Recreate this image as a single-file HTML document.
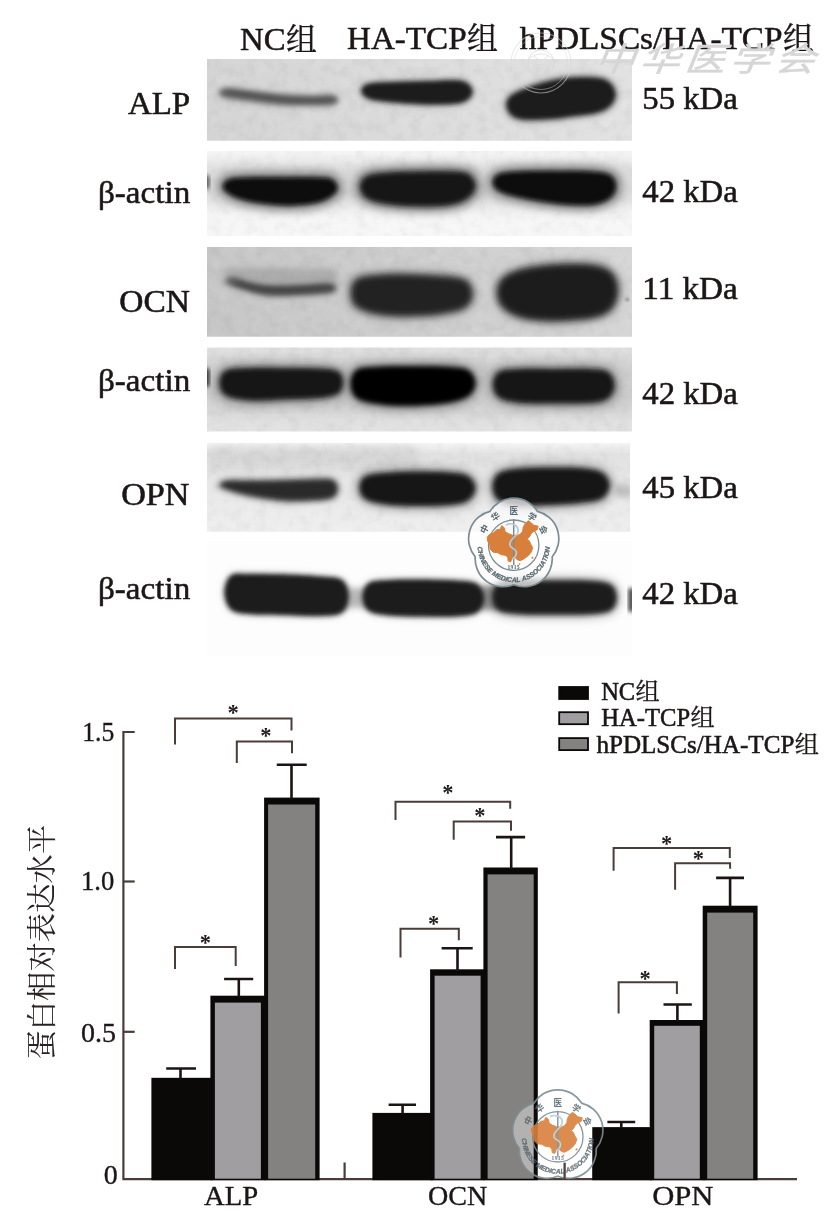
<!DOCTYPE html>
<html><head><meta charset="utf-8"><title>Figure</title>
<style>
html,body{margin:0;padding:0;background:#fff;}
body{width:829px;height:1213px;overflow:hidden;font-family:"Liberation Serif",serif;}
svg{display:block;font-family:"Liberation Serif",serif;}
</style></head><body>
<svg width="829" height="1213" viewBox="0 0 829 1213">
<rect width="829" height="1213" fill="#fff"/>
<defs>
<filter id="b04" x="-5%" y="-5%" width="110%" height="110%"><feGaussianBlur stdDeviation="0.35"/></filter>
<filter id="b1" x="-20%" y="-50%" width="140%" height="200%"><feGaussianBlur stdDeviation="1.2"/></filter>
<filter id="b2" x="-20%" y="-50%" width="140%" height="200%"><feGaussianBlur stdDeviation="2"/></filter>
<filter id="b25" x="-20%" y="-50%" width="140%" height="200%"><feGaussianBlur stdDeviation="2.5"/></filter>
<filter id="b3" x="-20%" y="-50%" width="140%" height="200%"><feGaussianBlur stdDeviation="3"/></filter>
<filter id="b5" x="-30%" y="-80%" width="160%" height="260%"><feGaussianBlur stdDeviation="5"/></filter>
<filter id="b8" x="-30%" y="-80%" width="160%" height="260%"><feGaussianBlur stdDeviation="8"/></filter>
<filter id="noise" x="0" y="0" width="100%" height="100%">
  <feTurbulence type="fractalNoise" baseFrequency="0.07" numOctaves="3" seed="7" result="n"/>
  <feColorMatrix in="n" type="matrix" values="0 0 0 0 1  0 0 0 0 1  0 0 0 0 1  2.2 0 0 0 -0.9"/>
</filter>
<filter id="noise2" x="0" y="0" width="100%" height="100%">
  <feTurbulence type="fractalNoise" baseFrequency="0.09" numOctaves="3" seed="23" result="n"/>
  <feColorMatrix in="n" type="matrix" values="0 0 0 0 0  0 0 0 0 0  0 0 0 0 0  0 2.2 0 0 -0.9"/>
</filter>
<linearGradient id="g1" x1="0" y1="0" x2="1" y2="0"><stop offset="0" stop-color="#d4d4d4"/><stop offset="0.5" stop-color="#dcdcdc"/><stop offset="1" stop-color="#e2e2e2"/></linearGradient>
<linearGradient id="g3" x1="0" y1="0" x2="1" y2="0"><stop offset="0" stop-color="#c6c6c6"/><stop offset="0.5" stop-color="#cecece"/><stop offset="1" stop-color="#d6d6d6"/></linearGradient>
<linearGradient id="g5" x1="0" y1="0" x2="0" y2="1"><stop offset="0" stop-color="#f6f6f6"/><stop offset="0.12" stop-color="#e2e2e2"/><stop offset="0.6" stop-color="#e9e9e9"/><stop offset="1" stop-color="#efefef"/></linearGradient>
<clipPath id="c1"><rect x="207" y="59" width="425" height="81.5"/></clipPath>
<clipPath id="c2"><rect x="207" y="151" width="425" height="85"/></clipPath>
<clipPath id="c3"><rect x="207" y="247" width="425" height="89.5"/></clipPath>
<clipPath id="c4"><rect x="207" y="347.5" width="425" height="84"/></clipPath>
<clipPath id="c5"><rect x="207" y="443" width="423" height="88.5"/></clipPath>
<clipPath id="c6"><rect x="207" y="541" width="425" height="115"/></clipPath>
</defs>
<rect x="207" y="59" width="425" height="81.5" fill="#dbdbdb"/>
<g clip-path="url(#c1)">
<rect x="207" y="59" width="425" height="82" fill="url(#g1)"/>
<rect x="207" y="59" width="425" height="81.5" fill="#fff" filter="url(#noise)" opacity="0.1"/>
<rect x="207" y="59" width="425" height="81.5" fill="#000" filter="url(#noise2)" opacity="0.034999999999999996"/>
<path d="M219.0,93.0 C219.0,91.3 220.8,88.4 226.0,88.0 C231.2,87.6 241.0,89.5 250.0,90.5 C259.0,91.5 270.0,93.2 280.0,94.0 C290.0,94.8 301.3,95.3 310.0,95.5 C318.7,95.7 327.3,94.2 332.0,95.0 C336.7,95.8 338.0,98.3 338.0,100.0 C338.0,101.7 336.7,104.1 332.0,105.0 C327.3,105.9 318.7,105.5 310.0,105.5 C301.3,105.5 290.0,105.7 280.0,105.0 C270.0,104.3 259.0,102.7 250.0,101.5 C241.0,100.3 231.2,99.4 226.0,98.0 C220.8,96.6 219.0,94.7 219.0,93.0 Z" fill="#999" stroke="#999" stroke-width="4" filter="url(#b3)" opacity="0.5"/><path d="M219.0,93.0 C219.0,91.3 220.8,88.4 226.0,88.0 C231.2,87.6 241.0,89.5 250.0,90.5 C259.0,91.5 270.0,93.2 280.0,94.0 C290.0,94.8 301.3,95.3 310.0,95.5 C318.7,95.7 327.3,94.2 332.0,95.0 C336.7,95.8 338.0,98.3 338.0,100.0 C338.0,101.7 336.7,104.1 332.0,105.0 C327.3,105.9 318.7,105.5 310.0,105.5 C301.3,105.5 290.0,105.7 280.0,105.0 C270.0,104.3 259.0,102.7 250.0,101.5 C241.0,100.3 231.2,99.4 226.0,98.0 C220.8,96.6 219.0,94.7 219.0,93.0 Z" fill="#7a7a7a" filter="url(#b25)" opacity="1"/>
<path d="M222.0,93.0 C222.0,92.2 224.5,90.4 230.0,90.5 C235.5,90.6 245.8,92.4 255.0,93.5 C264.2,94.6 275.5,96.2 285.0,97.0 C294.5,97.8 304.5,97.9 312.0,98.0 C319.5,98.1 326.0,97.2 330.0,97.5 C334.0,97.8 336.0,99.2 336.0,100.0 C336.0,100.8 334.0,102.0 330.0,102.5 C326.0,103.0 319.5,103.0 312.0,103.0 C304.5,103.0 294.5,103.2 285.0,102.5 C275.5,101.8 264.2,100.2 255.0,99.0 C245.8,97.8 235.5,96.5 230.0,95.5 C224.5,94.5 222.0,93.8 222.0,93.0 Z" fill="#484848" filter="url(#b2)" opacity="0.85"/>
<path d="M361.5,91.5 C361.2,89.0 362.4,85.6 368.0,84.0 C373.6,82.4 384.7,82.5 395.0,82.0 C405.3,81.5 418.8,81.2 430.0,81.0 C441.2,80.8 454.9,79.2 462.0,81.0 C469.1,82.8 472.5,88.2 472.5,91.8 C472.5,95.3 469.1,100.4 462.0,102.5 C454.9,104.6 441.2,104.5 430.0,104.5 C418.8,104.5 405.0,103.4 395.0,102.5 C385.0,101.6 375.6,100.8 370.0,99.0 C364.4,97.2 361.8,94.0 361.5,91.5 Z" fill="#777" stroke="#777" stroke-width="5" filter="url(#b3)" opacity="0.5"/><path d="M361.5,91.5 C361.2,89.0 362.4,85.6 368.0,84.0 C373.6,82.4 384.7,82.5 395.0,82.0 C405.3,81.5 418.8,81.2 430.0,81.0 C441.2,80.8 454.9,79.2 462.0,81.0 C469.1,82.8 472.5,88.2 472.5,91.8 C472.5,95.3 469.1,100.4 462.0,102.5 C454.9,104.6 441.2,104.5 430.0,104.5 C418.8,104.5 405.0,103.4 395.0,102.5 C385.0,101.6 375.6,100.8 370.0,99.0 C364.4,97.2 361.8,94.0 361.5,91.5 Z" fill="#1f1f1f" filter="url(#b2)" opacity="1"/>
<path d="M506.5,105.2 C506.5,101.8 507.4,98.3 512.0,95.0 C516.6,91.7 526.8,88.0 534.0,85.5 C541.2,83.0 548.2,81.3 555.0,80.0 C561.8,78.7 567.8,77.8 575.0,77.5 C582.2,77.2 592.2,77.1 598.0,78.0 C603.8,78.9 607.1,80.3 610.0,83.0 C612.9,85.7 615.3,90.3 615.5,94.0 C615.7,97.7 613.9,101.9 611.0,105.0 C608.1,108.1 604.0,110.7 598.0,112.5 C592.0,114.3 583.0,114.9 575.0,116.0 C567.0,117.1 558.5,118.4 550.0,119.0 C541.5,119.6 530.3,120.1 524.0,119.5 C517.7,118.9 514.9,117.9 512.0,115.5 C509.1,113.1 506.5,108.7 506.5,105.2 Z" fill="#707070" stroke="#707070" stroke-width="6" filter="url(#b3)" opacity="0.55"/><path d="M506.5,105.2 C506.5,101.8 507.4,98.3 512.0,95.0 C516.6,91.7 526.8,88.0 534.0,85.5 C541.2,83.0 548.2,81.3 555.0,80.0 C561.8,78.7 567.8,77.8 575.0,77.5 C582.2,77.2 592.2,77.1 598.0,78.0 C603.8,78.9 607.1,80.3 610.0,83.0 C612.9,85.7 615.3,90.3 615.5,94.0 C615.7,97.7 613.9,101.9 611.0,105.0 C608.1,108.1 604.0,110.7 598.0,112.5 C592.0,114.3 583.0,114.9 575.0,116.0 C567.0,117.1 558.5,118.4 550.0,119.0 C541.5,119.6 530.3,120.1 524.0,119.5 C517.7,118.9 514.9,117.9 512.0,115.5 C509.1,113.1 506.5,108.7 506.5,105.2 Z" fill="#1c1c1c" filter="url(#b2)" opacity="1"/>
</g>
<rect x="207" y="151" width="425" height="85" fill="#f7f7f7"/>
<g clip-path="url(#c2)">
<rect x="195" y="162" width="450" height="44" rx="18" ry="18" fill="#c2c2c2" filter="url(#b8)" opacity="0.6"/>
<rect x="207" y="151" width="425" height="85" fill="#fff" filter="url(#noise)" opacity="0.1"/>
<rect x="207" y="151" width="425" height="85" fill="#000" filter="url(#noise2)" opacity="0.034999999999999996"/>
<rect x="203" y="175" width="6.5" height="14" rx="3" ry="3" fill="#555" filter="url(#b2)" opacity="1"/>
<path d="M223.0,187.0 C222.8,184.3 225.5,180.6 230.0,179.0 C234.5,177.4 240.8,177.8 250.0,177.5 C259.2,177.2 274.2,177.5 285.0,177.5 C295.8,177.5 307.3,177.2 315.0,177.5 C322.7,177.8 327.2,177.3 331.0,179.0 C334.8,180.7 337.5,184.8 337.5,187.8 C337.5,190.7 334.8,194.0 331.0,196.5 C327.2,199.0 322.7,201.5 315.0,203.0 C307.3,204.5 295.8,205.8 285.0,205.5 C274.2,205.2 259.0,203.2 250.0,201.5 C241.0,199.8 235.5,197.4 231.0,195.0 C226.5,192.6 223.2,189.7 223.0,187.0 Z" fill="#5a5a5a" stroke="#5a5a5a" stroke-width="11" filter="url(#b5)" opacity="0.7"/><path d="M223.0,187.0 C222.8,184.3 225.5,180.6 230.0,179.0 C234.5,177.4 240.8,177.8 250.0,177.5 C259.2,177.2 274.2,177.5 285.0,177.5 C295.8,177.5 307.3,177.2 315.0,177.5 C322.7,177.8 327.2,177.3 331.0,179.0 C334.8,180.7 337.5,184.8 337.5,187.8 C337.5,190.7 334.8,194.0 331.0,196.5 C327.2,199.0 322.7,201.5 315.0,203.0 C307.3,204.5 295.8,205.8 285.0,205.5 C274.2,205.2 259.0,203.2 250.0,201.5 C241.0,199.8 235.5,197.4 231.0,195.0 C226.5,192.6 223.2,189.7 223.0,187.0 Z" fill="#070707" filter="url(#b2)" opacity="1"/>
<path d="M360.0,187.5 C359.8,183.7 362.0,178.5 367.0,176.0 C372.0,173.5 381.2,173.2 390.0,172.5 C398.8,171.8 410.0,171.7 420.0,171.5 C430.0,171.3 442.0,171.1 450.0,171.5 C458.0,171.9 463.8,171.6 468.0,174.0 C472.2,176.4 475.5,182.0 475.5,186.0 C475.5,190.0 472.2,194.8 468.0,198.0 C463.8,201.2 458.0,203.6 450.0,205.0 C442.0,206.4 430.0,206.6 420.0,206.5 C410.0,206.4 398.7,205.8 390.0,204.5 C381.3,203.2 373.0,201.8 368.0,199.0 C363.0,196.2 360.2,191.3 360.0,187.5 Z" fill="#5a5a5a" stroke="#5a5a5a" stroke-width="11" filter="url(#b5)" opacity="0.7"/><path d="M360.0,187.5 C359.8,183.7 362.0,178.5 367.0,176.0 C372.0,173.5 381.2,173.2 390.0,172.5 C398.8,171.8 410.0,171.7 420.0,171.5 C430.0,171.3 442.0,171.1 450.0,171.5 C458.0,171.9 463.8,171.6 468.0,174.0 C472.2,176.4 475.5,182.0 475.5,186.0 C475.5,190.0 472.2,194.8 468.0,198.0 C463.8,201.2 458.0,203.6 450.0,205.0 C442.0,206.4 430.0,206.6 420.0,206.5 C410.0,206.4 398.7,205.8 390.0,204.5 C381.3,203.2 373.0,201.8 368.0,199.0 C363.0,196.2 360.2,191.3 360.0,187.5 Z" fill="#181818" filter="url(#b25)" opacity="1"/>
<path d="M493.0,182.5 C493.0,179.7 494.5,175.8 499.0,174.0 C503.5,172.2 510.7,172.0 520.0,171.5 C529.3,171.0 543.3,171.0 555.0,171.0 C566.7,171.0 580.8,170.8 590.0,171.5 C599.2,172.2 605.7,172.4 610.0,175.0 C614.3,177.6 616.2,183.0 616.0,187.0 C615.8,191.0 613.3,196.0 609.0,199.0 C604.7,202.0 599.0,204.2 590.0,205.0 C581.0,205.8 566.7,204.8 555.0,203.5 C543.3,202.2 529.3,199.6 520.0,197.5 C510.7,195.4 503.5,193.5 499.0,191.0 C494.5,188.5 493.0,185.3 493.0,182.5 Z" fill="#5a5a5a" stroke="#5a5a5a" stroke-width="11" filter="url(#b5)" opacity="0.7"/><path d="M493.0,182.5 C493.0,179.7 494.5,175.8 499.0,174.0 C503.5,172.2 510.7,172.0 520.0,171.5 C529.3,171.0 543.3,171.0 555.0,171.0 C566.7,171.0 580.8,170.8 590.0,171.5 C599.2,172.2 605.7,172.4 610.0,175.0 C614.3,177.6 616.2,183.0 616.0,187.0 C615.8,191.0 613.3,196.0 609.0,199.0 C604.7,202.0 599.0,204.2 590.0,205.0 C581.0,205.8 566.7,204.8 555.0,203.5 C543.3,202.2 529.3,199.6 520.0,197.5 C510.7,195.4 503.5,193.5 499.0,191.0 C494.5,188.5 493.0,185.3 493.0,182.5 Z" fill="#070707" filter="url(#b2)" opacity="1"/>
</g>
<rect x="207" y="247" width="425" height="89.5" fill="#cdcdcd"/>
<g clip-path="url(#c3)">
<rect x="207" y="247" width="425" height="90" fill="url(#g3)"/>
<rect x="207" y="247" width="425" height="89.5" fill="#fff" filter="url(#noise)" opacity="0.1"/>
<rect x="207" y="247" width="425" height="89.5" fill="#000" filter="url(#noise2)" opacity="0.034999999999999996"/>
<rect x="224" y="268" width="114" height="18" rx="7" ry="7" fill="#909090" filter="url(#b3)" opacity="0.5"/>
<path d="M226.0,281.5 C226.0,280.2 229.0,277.3 233.0,277.5 C237.0,277.7 243.8,281.2 250.0,282.5 C256.2,283.8 261.7,285.1 270.0,285.5 C278.3,285.9 290.2,285.3 300.0,285.0 C309.8,284.7 323.0,283.0 329.0,283.5 C335.0,284.0 336.0,286.7 336.0,288.2 C336.0,289.8 335.0,291.9 329.0,293.0 C323.0,294.1 309.8,294.6 300.0,295.0 C290.2,295.4 278.3,296.1 270.0,295.5 C261.7,294.9 256.2,293.2 250.0,291.5 C243.8,289.8 237.0,287.2 233.0,285.5 C229.0,283.8 226.0,282.8 226.0,281.5 Z" fill="#888" stroke="#888" stroke-width="4" filter="url(#b3)" opacity="0.55"/><path d="M226.0,281.5 C226.0,280.2 229.0,277.3 233.0,277.5 C237.0,277.7 243.8,281.2 250.0,282.5 C256.2,283.8 261.7,285.1 270.0,285.5 C278.3,285.9 290.2,285.3 300.0,285.0 C309.8,284.7 323.0,283.0 329.0,283.5 C335.0,284.0 336.0,286.7 336.0,288.2 C336.0,289.8 335.0,291.9 329.0,293.0 C323.0,294.1 309.8,294.6 300.0,295.0 C290.2,295.4 278.3,296.1 270.0,295.5 C261.7,294.9 256.2,293.2 250.0,291.5 C243.8,289.8 237.0,287.2 233.0,285.5 C229.0,283.8 226.0,282.8 226.0,281.5 Z" fill="#5c5c5c" filter="url(#b25)" opacity="1"/>
<path d="M232.0,284.0 C232.0,283.3 236.2,281.8 240.0,282.0 C243.8,282.2 249.7,284.6 255.0,285.5 C260.3,286.4 264.5,287.2 272.0,287.5 C279.5,287.8 291.0,287.3 300.0,287.0 C309.0,286.7 320.5,285.3 326.0,285.5 C331.5,285.7 333.0,287.2 333.0,288.0 C333.0,288.8 331.5,289.8 326.0,290.5 C320.5,291.2 309.0,292.1 300.0,292.5 C291.0,292.9 279.5,293.3 272.0,293.0 C264.5,292.7 260.3,291.7 255.0,290.5 C249.7,289.3 243.8,287.1 240.0,286.0 C236.2,284.9 232.0,284.7 232.0,284.0 Z" fill="#3c3c3c" filter="url(#b2)" opacity="0.8"/>
<path d="M351.0,293.0 C351.0,288.3 352.2,282.0 357.0,279.0 C361.8,276.0 371.2,275.8 380.0,275.0 C388.8,274.2 400.0,274.3 410.0,274.5 C420.0,274.7 430.8,275.1 440.0,276.0 C449.2,276.9 459.6,277.0 465.0,280.0 C470.4,283.0 472.5,289.2 472.5,293.8 C472.5,298.3 470.4,304.1 465.0,307.5 C459.6,310.9 449.2,312.6 440.0,314.0 C430.8,315.4 420.0,315.9 410.0,316.0 C400.0,316.1 388.8,316.0 380.0,314.5 C371.2,313.0 361.8,310.6 357.0,307.0 C352.2,303.4 351.0,297.7 351.0,293.0 Z" fill="#6a6a6a" stroke="#6a6a6a" stroke-width="7" filter="url(#b5)" opacity="0.55"/><path d="M351.0,293.0 C351.0,288.3 352.2,282.0 357.0,279.0 C361.8,276.0 371.2,275.8 380.0,275.0 C388.8,274.2 400.0,274.3 410.0,274.5 C420.0,274.7 430.8,275.1 440.0,276.0 C449.2,276.9 459.6,277.0 465.0,280.0 C470.4,283.0 472.5,289.2 472.5,293.8 C472.5,298.3 470.4,304.1 465.0,307.5 C459.6,310.9 449.2,312.6 440.0,314.0 C430.8,315.4 420.0,315.9 410.0,316.0 C400.0,316.1 388.8,316.0 380.0,314.5 C371.2,313.0 361.8,310.6 357.0,307.0 C352.2,303.4 351.0,297.7 351.0,293.0 Z" fill="#222" filter="url(#b3)" opacity="1"/>
<path d="M497.0,292.8 C497.0,287.8 499.0,281.9 503.0,278.0 C507.0,274.1 513.2,271.7 521.0,269.5 C528.8,267.3 540.2,265.9 550.0,265.0 C559.8,264.1 571.7,263.8 580.0,264.0 C588.3,264.2 594.5,264.8 600.0,266.5 C605.5,268.2 610.0,270.0 613.0,274.0 C616.0,278.0 618.0,285.0 618.0,290.5 C618.0,296.0 616.0,302.8 613.0,307.0 C610.0,311.2 605.5,313.9 600.0,316.0 C594.5,318.1 588.3,318.7 580.0,319.5 C571.7,320.3 559.8,321.3 550.0,321.0 C540.2,320.7 528.8,319.8 521.0,317.5 C513.2,315.2 507.0,311.6 503.0,307.5 C499.0,303.4 497.0,297.7 497.0,292.8 Z" fill="#6a6a6a" stroke="#6a6a6a" stroke-width="7" filter="url(#b5)" opacity="0.55"/><path d="M497.0,292.8 C497.0,287.8 499.0,281.9 503.0,278.0 C507.0,274.1 513.2,271.7 521.0,269.5 C528.8,267.3 540.2,265.9 550.0,265.0 C559.8,264.1 571.7,263.8 580.0,264.0 C588.3,264.2 594.5,264.8 600.0,266.5 C605.5,268.2 610.0,270.0 613.0,274.0 C616.0,278.0 618.0,285.0 618.0,290.5 C618.0,296.0 616.0,302.8 613.0,307.0 C610.0,311.2 605.5,313.9 600.0,316.0 C594.5,318.1 588.3,318.7 580.0,319.5 C571.7,320.3 559.8,321.3 550.0,321.0 C540.2,320.7 528.8,319.8 521.0,317.5 C513.2,315.2 507.0,311.6 503.0,307.5 C499.0,303.4 497.0,297.7 497.0,292.8 Z" fill="#1f1f1f" filter="url(#b3)" opacity="1"/>
<circle cx="627.3" cy="299.5" r="1.8" fill="#8a8a8a" filter="url(#b1)"/>
</g>
<rect x="207" y="347.5" width="425" height="84" fill="#e3e3e3"/>
<g clip-path="url(#c4)">
<rect x="195" y="357" width="450" height="57" rx="20" ry="20" fill="#bdbdbd" filter="url(#b8)" opacity="0.6"/>
<rect x="207" y="347.5" width="425" height="84" fill="#fff" filter="url(#noise)" opacity="0.1"/>
<rect x="207" y="347.5" width="425" height="84" fill="#000" filter="url(#noise2)" opacity="0.034999999999999996"/>
<rect x="202" y="368" width="7.5" height="19" rx="3" ry="3" fill="#2a2a2a" filter="url(#b2)" opacity="1"/>
<path d="M219.5,383.0 C219.5,378.8 220.9,373.0 226.0,370.5 C231.1,368.0 240.2,368.4 250.0,368.0 C259.8,367.6 273.3,367.9 285.0,368.0 C296.7,368.1 311.2,367.9 320.0,368.5 C328.8,369.1 334.1,369.2 338.0,371.5 C341.9,373.8 343.5,378.8 343.5,382.5 C343.5,386.2 341.9,390.9 338.0,393.5 C334.1,396.1 328.8,397.0 320.0,398.0 C311.2,399.0 296.7,399.1 285.0,399.5 C273.3,399.9 259.8,401.2 250.0,400.5 C240.2,399.8 231.1,398.4 226.0,395.5 C220.9,392.6 219.5,387.2 219.5,383.0 Z" fill="#666" stroke="#666" stroke-width="9" filter="url(#b5)" opacity="0.6"/><path d="M219.5,383.0 C219.5,378.8 220.9,373.0 226.0,370.5 C231.1,368.0 240.2,368.4 250.0,368.0 C259.8,367.6 273.3,367.9 285.0,368.0 C296.7,368.1 311.2,367.9 320.0,368.5 C328.8,369.1 334.1,369.2 338.0,371.5 C341.9,373.8 343.5,378.8 343.5,382.5 C343.5,386.2 341.9,390.9 338.0,393.5 C334.1,396.1 328.8,397.0 320.0,398.0 C311.2,399.0 296.7,399.1 285.0,399.5 C273.3,399.9 259.8,401.2 250.0,400.5 C240.2,399.8 231.1,398.4 226.0,395.5 C220.9,392.6 219.5,387.2 219.5,383.0 Z" fill="#171717" filter="url(#b25)" opacity="1"/>
<path d="M350.5,384.0 C350.5,379.2 352.1,372.4 357.0,369.5 C361.9,366.6 371.2,367.1 380.0,366.5 C388.8,365.9 399.2,366.0 410.0,366.0 C420.8,366.0 435.3,365.8 445.0,366.5 C454.7,367.2 462.9,367.2 468.0,370.0 C473.1,372.8 475.5,378.8 475.5,383.2 C475.5,387.7 473.1,393.1 468.0,396.5 C462.9,399.9 454.7,401.9 445.0,403.5 C435.3,405.1 420.8,405.8 410.0,406.0 C399.2,406.2 388.8,405.8 380.0,404.5 C371.2,403.2 361.9,401.9 357.0,398.5 C352.1,395.1 350.5,388.8 350.5,384.0 Z" fill="#666" stroke="#666" stroke-width="9" filter="url(#b5)" opacity="0.6"/><path d="M350.5,384.0 C350.5,379.2 352.1,372.4 357.0,369.5 C361.9,366.6 371.2,367.1 380.0,366.5 C388.8,365.9 399.2,366.0 410.0,366.0 C420.8,366.0 435.3,365.8 445.0,366.5 C454.7,367.2 462.9,367.2 468.0,370.0 C473.1,372.8 475.5,378.8 475.5,383.2 C475.5,387.7 473.1,393.1 468.0,396.5 C462.9,399.9 454.7,401.9 445.0,403.5 C435.3,405.1 420.8,405.8 410.0,406.0 C399.2,406.2 388.8,405.8 380.0,404.5 C371.2,403.2 361.9,401.9 357.0,398.5 C352.1,395.1 350.5,388.8 350.5,384.0 Z" fill="#060606" filter="url(#b25)" opacity="1"/>
<path d="M493.0,384.8 C493.0,380.5 494.5,374.6 499.0,372.0 C503.5,369.4 510.7,369.5 520.0,369.0 C529.3,368.5 543.3,369.0 555.0,369.0 C566.7,369.0 581.2,368.5 590.0,369.0 C598.8,369.5 603.9,369.3 608.0,372.0 C612.1,374.7 614.5,380.8 614.5,385.2 C614.5,389.7 612.1,395.5 608.0,398.5 C603.9,401.5 598.8,402.2 590.0,403.0 C581.2,403.8 566.7,403.5 555.0,403.5 C543.3,403.5 529.3,404.0 520.0,403.0 C510.7,402.0 503.5,400.5 499.0,397.5 C494.5,394.5 493.0,389.0 493.0,384.8 Z" fill="#666" stroke="#666" stroke-width="9" filter="url(#b5)" opacity="0.6"/><path d="M493.0,384.8 C493.0,380.5 494.5,374.6 499.0,372.0 C503.5,369.4 510.7,369.5 520.0,369.0 C529.3,368.5 543.3,369.0 555.0,369.0 C566.7,369.0 581.2,368.5 590.0,369.0 C598.8,369.5 603.9,369.3 608.0,372.0 C612.1,374.7 614.5,380.8 614.5,385.2 C614.5,389.7 612.1,395.5 608.0,398.5 C603.9,401.5 598.8,402.2 590.0,403.0 C581.2,403.8 566.7,403.5 555.0,403.5 C543.3,403.5 529.3,404.0 520.0,403.0 C510.7,402.0 503.5,400.5 499.0,397.5 C494.5,394.5 493.0,389.0 493.0,384.8 Z" fill="#131313" filter="url(#b25)" opacity="1"/>
</g>
<rect x="207" y="443" width="423" height="88.5" fill="#ebebeb"/>
<g clip-path="url(#c5)">
<rect x="207" y="443" width="425" height="89" fill="url(#g5)"/><rect x="207" y="446" width="213" height="24" rx="8" ry="8" fill="#cfcfcf" filter="url(#b5)" opacity="0.6"/>
<rect x="207" y="443" width="423" height="88.5" fill="#fff" filter="url(#noise)" opacity="0.1"/>
<rect x="207" y="443" width="423" height="88.5" fill="#000" filter="url(#noise2)" opacity="0.034999999999999996"/>
<path d="M220.0,485.2 C220.0,483.8 223.0,481.7 228.0,481.0 C233.0,480.3 240.5,481.1 250.0,481.0 C259.5,480.9 274.2,480.8 285.0,480.5 C295.8,480.2 307.2,479.6 315.0,479.5 C322.8,479.4 328.2,478.5 332.0,480.0 C335.8,481.5 337.5,485.8 337.5,488.8 C337.5,491.7 335.8,495.6 332.0,497.5 C328.2,499.4 322.8,499.5 315.0,500.0 C307.2,500.5 295.8,501.2 285.0,500.5 C274.2,499.8 259.5,497.3 250.0,495.5 C240.5,493.7 233.0,491.2 228.0,489.5 C223.0,487.8 220.0,486.7 220.0,485.2 Z" fill="#777" stroke="#777" stroke-width="5" filter="url(#b3)" opacity="0.6"/><path d="M220.0,485.2 C220.0,483.8 223.0,481.7 228.0,481.0 C233.0,480.3 240.5,481.1 250.0,481.0 C259.5,480.9 274.2,480.8 285.0,480.5 C295.8,480.2 307.2,479.6 315.0,479.5 C322.8,479.4 328.2,478.5 332.0,480.0 C335.8,481.5 337.5,485.8 337.5,488.8 C337.5,491.7 335.8,495.6 332.0,497.5 C328.2,499.4 322.8,499.5 315.0,500.0 C307.2,500.5 295.8,501.2 285.0,500.5 C274.2,499.8 259.5,497.3 250.0,495.5 C240.5,493.7 233.0,491.2 228.0,489.5 C223.0,487.8 220.0,486.7 220.0,485.2 Z" fill="#2c2c2c" filter="url(#b25)" opacity="1"/>
<path d="M359.5,487.8 C359.5,483.8 360.9,478.5 366.0,476.0 C371.1,473.5 381.0,473.2 390.0,472.5 C399.0,471.8 410.0,471.5 420.0,471.5 C430.0,471.5 442.0,471.8 450.0,472.5 C458.0,473.2 463.8,473.4 468.0,476.0 C472.2,478.6 475.5,484.2 475.5,488.2 C475.5,492.3 472.2,497.7 468.0,500.5 C463.8,503.3 458.0,504.1 450.0,505.0 C442.0,505.9 430.0,506.0 420.0,506.0 C410.0,506.0 399.0,506.1 390.0,505.0 C381.0,503.9 371.1,502.4 366.0,499.5 C360.9,496.6 359.5,491.7 359.5,487.8 Z" fill="#666" stroke="#666" stroke-width="8" filter="url(#b5)" opacity="0.55"/><path d="M359.5,487.8 C359.5,483.8 360.9,478.5 366.0,476.0 C371.1,473.5 381.0,473.2 390.0,472.5 C399.0,471.8 410.0,471.5 420.0,471.5 C430.0,471.5 442.0,471.8 450.0,472.5 C458.0,473.2 463.8,473.4 468.0,476.0 C472.2,478.6 475.5,484.2 475.5,488.2 C475.5,492.3 472.2,497.7 468.0,500.5 C463.8,503.3 458.0,504.1 450.0,505.0 C442.0,505.9 430.0,506.0 420.0,506.0 C410.0,506.0 399.0,506.1 390.0,505.0 C381.0,503.9 371.1,502.4 366.0,499.5 C360.9,496.6 359.5,491.7 359.5,487.8 Z" fill="#121212" filter="url(#b25)" opacity="1"/>
<path d="M492.5,486.8 C492.5,482.2 494.4,476.0 499.0,473.0 C503.6,470.0 511.5,469.4 520.0,468.5 C528.5,467.6 540.0,467.6 550.0,467.5 C560.0,467.4 571.3,467.2 580.0,468.0 C588.7,468.8 597.1,469.6 602.0,472.5 C606.9,475.4 609.5,481.2 609.5,485.5 C609.5,489.8 606.9,495.6 602.0,498.5 C597.1,501.4 588.7,501.9 580.0,503.0 C571.3,504.1 560.0,504.6 550.0,505.0 C540.0,505.4 528.5,506.2 520.0,505.5 C511.5,504.8 503.6,503.6 499.0,500.5 C494.4,497.4 492.5,491.3 492.5,486.8 Z" fill="#666" stroke="#666" stroke-width="8" filter="url(#b5)" opacity="0.55"/><path d="M492.5,486.8 C492.5,482.2 494.4,476.0 499.0,473.0 C503.6,470.0 511.5,469.4 520.0,468.5 C528.5,467.6 540.0,467.6 550.0,467.5 C560.0,467.4 571.3,467.2 580.0,468.0 C588.7,468.8 597.1,469.6 602.0,472.5 C606.9,475.4 609.5,481.2 609.5,485.5 C609.5,489.8 606.9,495.6 602.0,498.5 C597.1,501.4 588.7,501.9 580.0,503.0 C571.3,504.1 560.0,504.6 550.0,505.0 C540.0,505.4 528.5,506.2 520.0,505.5 C511.5,504.8 503.6,503.6 499.0,500.5 C494.4,497.4 492.5,491.3 492.5,486.8 Z" fill="#121212" filter="url(#b25)" opacity="1"/>
<rect x="614" y="484" width="18" height="13" rx="5" ry="5" fill="#a0a0a0" filter="url(#b3)" opacity="0.55"/>
</g>
<rect x="207" y="541" width="425" height="115" fill="#fdfdfd"/>
<g clip-path="url(#c6)">

<rect x="207" y="541" width="425" height="115" fill="#fff" filter="url(#noise)" opacity="0.0"/>
<rect x="207" y="541" width="425" height="115" fill="#000" filter="url(#noise2)" opacity="0.0"/>
<rect x="340" y="588" width="32" height="20" rx="6" ry="6" fill="#777" filter="url(#b3)" opacity="0.5"/>
<rect x="478" y="586" width="22" height="24" rx="6" ry="6" fill="#555" filter="url(#b3)" opacity="0.7"/>
<path d="M224.5,592.5 C224.5,586.8 226.8,578.6 231.0,575.5 C235.2,572.4 241.0,574.2 250.0,574.0 C259.0,573.8 273.3,574.1 285.0,574.5 C296.7,574.9 310.5,575.6 320.0,576.5 C329.5,577.4 337.2,576.7 342.0,580.0 C346.8,583.3 348.5,590.8 348.5,596.2 C348.5,601.7 346.8,609.2 342.0,612.5 C337.2,615.8 329.5,615.6 320.0,616.0 C310.5,616.4 296.7,615.3 285.0,615.0 C273.3,614.7 259.0,614.9 250.0,614.0 C241.0,613.1 235.2,613.1 231.0,609.5 C226.8,605.9 224.5,598.2 224.5,592.5 Z" fill="#888" stroke="#888" stroke-width="4" filter="url(#b3)" opacity="0.45"/><path d="M224.5,592.5 C224.5,586.8 226.8,578.6 231.0,575.5 C235.2,572.4 241.0,574.2 250.0,574.0 C259.0,573.8 273.3,574.1 285.0,574.5 C296.7,574.9 310.5,575.6 320.0,576.5 C329.5,577.4 337.2,576.7 342.0,580.0 C346.8,583.3 348.5,590.8 348.5,596.2 C348.5,601.7 346.8,609.2 342.0,612.5 C337.2,615.8 329.5,615.6 320.0,616.0 C310.5,616.4 296.7,615.3 285.0,615.0 C273.3,614.7 259.0,614.9 250.0,614.0 C241.0,613.1 235.2,613.1 231.0,609.5 C226.8,605.9 224.5,598.2 224.5,592.5 Z" fill="#1a1a1a" filter="url(#b2)" opacity="1"/>
<path d="M362.5,597.0 C362.5,592.3 364.4,585.8 369.0,583.0 C373.6,580.2 381.5,580.6 390.0,580.0 C398.5,579.4 409.2,579.4 420.0,579.5 C430.8,579.6 445.5,579.8 455.0,580.5 C464.5,581.2 472.1,581.0 477.0,584.0 C481.9,587.0 484.5,593.5 484.5,598.2 C484.5,603.0 481.9,609.5 477.0,612.5 C472.1,615.5 464.5,615.8 455.0,616.5 C445.5,617.2 430.8,616.7 420.0,616.5 C409.2,616.3 398.5,616.4 390.0,615.5 C381.5,614.6 373.6,614.1 369.0,611.0 C364.4,607.9 362.5,601.7 362.5,597.0 Z" fill="#888" stroke="#888" stroke-width="4" filter="url(#b3)" opacity="0.45"/><path d="M362.5,597.0 C362.5,592.3 364.4,585.8 369.0,583.0 C373.6,580.2 381.5,580.6 390.0,580.0 C398.5,579.4 409.2,579.4 420.0,579.5 C430.8,579.6 445.5,579.8 455.0,580.5 C464.5,581.2 472.1,581.0 477.0,584.0 C481.9,587.0 484.5,593.5 484.5,598.2 C484.5,603.0 481.9,609.5 477.0,612.5 C472.1,615.5 464.5,615.8 455.0,616.5 C445.5,617.2 430.8,616.7 420.0,616.5 C409.2,616.3 398.5,616.4 390.0,615.5 C381.5,614.6 373.6,614.1 369.0,611.0 C364.4,607.9 362.5,601.7 362.5,597.0 Z" fill="#1a1a1a" filter="url(#b2)" opacity="1"/>
<path d="M492.0,597.0 C492.0,592.5 493.3,586.2 498.0,583.5 C502.7,580.8 510.5,581.1 520.0,580.5 C529.5,579.9 543.3,580.0 555.0,580.0 C566.7,580.0 580.7,579.8 590.0,580.5 C599.3,581.2 606.5,581.7 611.0,584.5 C615.5,587.3 617.0,593.2 617.0,597.5 C617.0,601.8 615.5,607.7 611.0,610.5 C606.5,613.3 599.3,613.8 590.0,614.5 C580.7,615.2 566.7,615.0 555.0,615.0 C543.3,615.0 529.5,615.2 520.0,614.5 C510.5,613.8 502.7,613.4 498.0,610.5 C493.3,607.6 492.0,601.5 492.0,597.0 Z" fill="#888" stroke="#888" stroke-width="7" filter="url(#b5)" opacity="0.55"/><path d="M492.0,597.0 C492.0,592.5 493.3,586.2 498.0,583.5 C502.7,580.8 510.5,581.1 520.0,580.5 C529.5,579.9 543.3,580.0 555.0,580.0 C566.7,580.0 580.7,579.8 590.0,580.5 C599.3,581.2 606.5,581.7 611.0,584.5 C615.5,587.3 617.0,593.2 617.0,597.5 C617.0,601.8 615.5,607.7 611.0,610.5 C606.5,613.3 599.3,613.8 590.0,614.5 C580.7,615.2 566.7,615.0 555.0,615.0 C543.3,615.0 529.5,615.2 520.0,614.5 C510.5,613.8 502.7,613.4 498.0,610.5 C493.3,607.6 492.0,601.5 492.0,597.0 Z" fill="#1a1a1a" filter="url(#b25)" opacity="1"/>
<rect x="628.5" y="588" width="5.5" height="24" rx="2" ry="2" fill="#333" filter="url(#b2)" opacity="1"/>
</g>
<text x="240.0" y="50.2" font-size="32.5" text-anchor="start" font-weight="normal" fill="#1c1616" textLength="45.6" lengthAdjust="spacingAndGlyphs" stroke="#1c1616" stroke-width="0.5" >NC</text><text x="286.12" y="50.2" font-size="30.87" text-anchor="start" fill="#1c1616" stroke="#1c1616" stroke-width="0.3" font-family="'Liberation Serif','Noto Serif CJK SC',serif">组</text>
<text x="347.0" y="49.0" font-size="32.5" text-anchor="start" font-weight="normal" fill="#1c1616" textLength="119.6" lengthAdjust="spacingAndGlyphs" stroke="#1c1616" stroke-width="0.5" >HA-TCP</text><text x="467.12" y="49.0" font-size="30.87" text-anchor="start" fill="#1c1616" stroke="#1c1616" stroke-width="0.3" font-family="'Liberation Serif','Noto Serif CJK SC',serif">组</text>
<text x="519.8" y="49.0" font-size="32.5" text-anchor="start" font-weight="normal" fill="#1c1616" textLength="262.8" lengthAdjust="spacingAndGlyphs" stroke="#1c1616" stroke-width="0.5" >hPDLSCs/HA-TCP</text><text x="783.12" y="49.0" font-size="30.87" text-anchor="start" fill="#1c1616" stroke="#1c1616" stroke-width="0.3" font-family="'Liberation Serif','Noto Serif CJK SC',serif">组</text>
<g fill="none" stroke="#d6d6d6" stroke-width="1.1" opacity="0.55"><circle cx="541" cy="63" r="30"/><circle cx="541" cy="63" r="26.5" stroke-width="0.8"/><circle cx="541" cy="63" r="13"/><path d="M528,63 a13,9 0 0 1 26,0 M531,70 q10,-12 20,0 M534,56 q7,8 14,0"/></g>
<g transform="translate(594.0,70.5) skewX(-22) scale(1,0.825)" font-family="'Liberation Sans','Noto Sans CJK SC',sans-serif" font-size="40" fill="#d6d6d6" stroke="#d6d6d6" stroke-width="0.6"><text x="0" y="0">中</text><text x="45" y="0">华</text><text x="90" y="0">医</text><text x="135" y="0">学</text><text x="180" y="0">会</text></g>
<text x="190.2" y="113.7" font-size="32" text-anchor="end" font-weight="normal" fill="#1c1616" textLength="62.3" lengthAdjust="spacingAndGlyphs" stroke="#1c1616" stroke-width="0.55" >ALP</text>
<text x="190.2" y="203.2" font-size="32" text-anchor="end" font-weight="normal" fill="#1c1616" textLength="92.2" lengthAdjust="spacingAndGlyphs" stroke="#1c1616" stroke-width="0.55" >β-actin</text>
<text x="189.9" y="311.7" font-size="32" text-anchor="end" font-weight="normal" fill="#1c1616" textLength="70.6" lengthAdjust="spacingAndGlyphs" stroke="#1c1616" stroke-width="0.55" >OCN</text>
<text x="190.2" y="391.4" font-size="32" text-anchor="end" font-weight="normal" fill="#1c1616" textLength="92.2" lengthAdjust="spacingAndGlyphs" stroke="#1c1616" stroke-width="0.55" >β-actin</text>
<text x="189.5" y="504.7" font-size="32" text-anchor="end" font-weight="normal" fill="#1c1616" textLength="68.3" lengthAdjust="spacingAndGlyphs" stroke="#1c1616" stroke-width="0.55" >OPN</text>
<text x="190.2" y="599.1" font-size="32" text-anchor="end" font-weight="normal" fill="#1c1616" textLength="92.2" lengthAdjust="spacingAndGlyphs" stroke="#1c1616" stroke-width="0.55" >β-actin</text>
<text x="642.3" y="109.4" font-size="32" text-anchor="start" font-weight="normal" fill="#1c1616" textLength="95.5" lengthAdjust="spacingAndGlyphs" stroke="#1c1616" stroke-width="0.55" >55 kDa</text>
<text x="642.3" y="201.7" font-size="32" text-anchor="start" font-weight="normal" fill="#1c1616" textLength="95.5" lengthAdjust="spacingAndGlyphs" stroke="#1c1616" stroke-width="0.55" >42 kDa</text>
<text x="642.3" y="299.4" font-size="32" text-anchor="start" font-weight="normal" fill="#1c1616" textLength="95.5" lengthAdjust="spacingAndGlyphs" stroke="#1c1616" stroke-width="0.55" >11 kDa</text>
<text x="642.3" y="403.7" font-size="32" text-anchor="start" font-weight="normal" fill="#1c1616" textLength="95.5" lengthAdjust="spacingAndGlyphs" stroke="#1c1616" stroke-width="0.55" >42 kDa</text>
<text x="642.3" y="497.8" font-size="32" text-anchor="start" font-weight="normal" fill="#1c1616" textLength="95.5" lengthAdjust="spacingAndGlyphs" stroke="#1c1616" stroke-width="0.55" >45 kDa</text>
<text x="642.3" y="603.9" font-size="32" text-anchor="start" font-weight="normal" fill="#1c1616" textLength="95.5" lengthAdjust="spacingAndGlyphs" stroke="#1c1616" stroke-width="0.55" >42 kDa</text>
<path d="M134.7,732 H123.4 V1179.2 H797" fill="none" stroke="#4a3d38" stroke-width="2.2"/>
<path d="M123.4,881.5 H134.7" stroke="#4a3d38" stroke-width="2.2"/>
<path d="M123.4,1031.8 H134.7" stroke="#4a3d38" stroke-width="2.2"/>
<path d="M344.6,1162.6 V1179.2 M564.6,1162.6 V1179.2" stroke="#4a3d38" stroke-width="2.2"/>
<text x="114.3" y="741.3" font-size="28" text-anchor="end" font-weight="normal" fill="#1c1616" textLength="32.1" lengthAdjust="spacingAndGlyphs" stroke="#1c1616" stroke-width="0.35" >1.5</text>
<text x="114.3" y="889.8" font-size="28" text-anchor="end" font-weight="normal" fill="#1c1616" textLength="33.3" lengthAdjust="spacingAndGlyphs" stroke="#1c1616" stroke-width="0.35" >1.0</text>
<text x="116.0" y="1041.7" font-size="28" text-anchor="end" font-weight="normal" fill="#1c1616" textLength="35.0" lengthAdjust="spacingAndGlyphs" stroke="#1c1616" stroke-width="0.35" >0.5</text>
<text x="117.8" y="1183.7" font-size="28" text-anchor="end" font-weight="normal" fill="#1c1616" stroke="#1c1616" stroke-width="0.35" >0</text>
<rect x="151.4" y="1077.8" width="61.599999999999994" height="102.40000000000009" fill="#0b0808"/>
<rect x="210.4" y="995.7" width="55.599999999999994" height="184.5" fill="#0b0808"/>
<rect x="214.9" y="1002.6" width="45.99999999999997" height="176.10000000000002" fill="#a09ea1"/>
<rect x="264.1" y="797.6" width="55.5" height="382.6" fill="#0b0808"/>
<rect x="268.1" y="804.5" width="47.099999999999966" height="374.20000000000005" fill="#838280"/>
<path d="M166.2,1068.5 H196 M180.5,1068.5 V1079" stroke="#1c1414" stroke-width="2.6" fill="none"/>
<path d="M224.1,979 H253.2 M238.8,979 V997" stroke="#1c1414" stroke-width="2.6" fill="none"/>
<path d="M276.8,764.7 H306.7 M291.5,764.7 V799" stroke="#1c1414" stroke-width="2.6" fill="none"/>
<rect x="372.4" y="1112.9" width="60.60000000000002" height="67.29999999999995" fill="#0b0808"/>
<rect x="430.1" y="969.3" width="54.89999999999998" height="210.9000000000001" fill="#0b0808"/>
<rect x="434.6" y="975.7" width="46.0" height="203.0" fill="#a09ea1"/>
<rect x="483.4" y="867.5" width="54.39999999999998" height="312.70000000000005" fill="#0b0808"/>
<rect x="487.6" y="874.4" width="46.10000000000002" height="304.30000000000007" fill="#838280"/>
<path d="M388.6,1104.8 H416 M402.6,1104.8 V1114" stroke="#1c1414" stroke-width="2.6" fill="none"/>
<path d="M441.6,948.3 H472.7 M457.5,948.3 V971" stroke="#1c1414" stroke-width="2.6" fill="none"/>
<path d="M496,837.1 H525.1 M511.2,837.1 V869" stroke="#1c1414" stroke-width="2.6" fill="none"/>
<rect x="592.2" y="1127.1" width="59.799999999999955" height="53.100000000000136" fill="#0b0808"/>
<rect x="649.7" y="1020" width="55.299999999999955" height="160.20000000000005" fill="#0b0808"/>
<rect x="654.2" y="1025.8" width="45.59999999999991" height="152.9000000000001" fill="#a09ea1"/>
<rect x="702.7" y="905.7" width="54.89999999999998" height="274.5" fill="#0b0808"/>
<rect x="707.2" y="912.6" width="46.0" height="266.1" fill="#838280"/>
<path d="M607.4,1122 H635.2 M621.3,1122 V1128" stroke="#1c1414" stroke-width="2.6" fill="none"/>
<path d="M663.5,1004.5 H691.8 M677.4,1004.5 V1021" stroke="#1c1414" stroke-width="2.6" fill="none"/>
<path d="M716.1,877.9 H744 M730.1,877.9 V907" stroke="#1c1414" stroke-width="2.6" fill="none"/>
<path d="M175,744.5 V718.5 H291.5 V730.5" fill="none" stroke="#4a3d38" stroke-width="2"/>
<text x="233.2" y="719.6" font-size="22.5" text-anchor="middle" font-weight="bold" fill="#231a1a" >*</text>
<path d="M236.8,763 V741.4 H292 V753.3" fill="none" stroke="#4a3d38" stroke-width="2"/>
<text x="265.9" y="742.9" font-size="22.5" text-anchor="middle" font-weight="bold" fill="#231a1a" >*</text>
<path d="M175,969.1 V946.9 H235.7 V965.9" fill="none" stroke="#4a3d38" stroke-width="2"/>
<text x="205.3" y="949.9" font-size="22.5" text-anchor="middle" font-weight="bold" fill="#231a1a" >*</text>
<path d="M395.5,819.9 V801.7 H510.2 V808.8" fill="none" stroke="#4a3d38" stroke-width="2"/>
<text x="447.9" y="799.6" font-size="22.5" text-anchor="middle" font-weight="bold" fill="#231a1a" >*</text>
<path d="M453.7,839.7 V821.4 H511 V830.8" fill="none" stroke="#4a3d38" stroke-width="2"/>
<text x="479.8" y="822.9" font-size="22.5" text-anchor="middle" font-weight="bold" fill="#231a1a" >*</text>
<path d="M400.5,957.4 V928.8 H458.8 V940.2" fill="none" stroke="#4a3d38" stroke-width="2"/>
<text x="433.7" y="930.8" font-size="22.5" text-anchor="middle" font-weight="bold" fill="#231a1a" >*</text>
<path d="M613.6,870.8 V848 H729.8 V858.1" fill="none" stroke="#4a3d38" stroke-width="2"/>
<text x="666.5" y="850.5" font-size="22.5" text-anchor="middle" font-weight="bold" fill="#231a1a" >*</text>
<path d="M675.1,889.8 V863.2 H730.1 V868.8" fill="none" stroke="#4a3d38" stroke-width="2"/>
<text x="698.4" y="866.2" font-size="22.5" text-anchor="middle" font-weight="bold" fill="#231a1a" >*</text>
<path d="M618.6,1013.4 V982.2 H676.9 V994.1" fill="none" stroke="#4a3d38" stroke-width="2"/>
<text x="645.2" y="985.7" font-size="22.5" text-anchor="middle" font-weight="bold" fill="#231a1a" >*</text>
<text x="204.0" y="1204.8" font-size="28" text-anchor="start" font-weight="normal" fill="#1c1616" textLength="54.2" lengthAdjust="spacingAndGlyphs" stroke="#1c1616" stroke-width="0.35" >ALP</text>
<text x="428.1" y="1204.9" font-size="28" text-anchor="start" font-weight="normal" fill="#1c1616" textLength="59.3" lengthAdjust="spacingAndGlyphs" stroke="#1c1616" stroke-width="0.35" >OCN</text>
<text x="652.2" y="1204.9" font-size="28" text-anchor="start" font-weight="normal" fill="#1c1616" textLength="61.3" lengthAdjust="spacingAndGlyphs" stroke="#1c1616" stroke-width="0.35" >OPN</text>
<rect x="559.2" y="687.0" width="28.8" height="12" fill="#0b0808" stroke="#0b0808" stroke-width="1.8"/>
<rect x="559.2" y="712.1999999999999" width="28.8" height="12" fill="#a09ea1" stroke="#0b0808" stroke-width="1.8"/>
<rect x="559.2" y="738.0999999999999" width="28.8" height="12" fill="#838280" stroke="#0b0808" stroke-width="1.8"/>
<text x="601.2" y="699.6" font-size="25.5" text-anchor="start" font-weight="normal" fill="#1c1616" textLength="34.0" lengthAdjust="spacingAndGlyphs" stroke="#1c1616" stroke-width="0.55" >NC</text>
<text x="635.48" y="699.6" font-size="24.22" text-anchor="start" fill="#1c1616" stroke="#1c1616" stroke-width="0.25" font-family="'Liberation Serif','Noto Serif CJK SC',serif">组</text>
<text x="601.2" y="725.5" font-size="25.5" text-anchor="start" font-weight="normal" fill="#1c1616" textLength="88.9" lengthAdjust="spacingAndGlyphs" stroke="#1c1616" stroke-width="0.55" >HA-TCP</text>
<text x="690.38" y="725.5" font-size="24.22" text-anchor="start" fill="#1c1616" stroke="#1c1616" stroke-width="0.25" font-family="'Liberation Serif','Noto Serif CJK SC',serif">组</text>
<text x="596.4" y="752.5" font-size="25.5" text-anchor="start" font-weight="normal" fill="#1c1616" textLength="198.0" lengthAdjust="spacingAndGlyphs" stroke="#1c1616" stroke-width="0.55" >hPDLSCs/HA-TCP</text>
<text x="794.67" y="752.5" font-size="24.22" text-anchor="start" fill="#1c1616" stroke="#1c1616" stroke-width="0.25" font-family="'Liberation Serif','Noto Serif CJK SC',serif">组</text>
<g transform="translate(51.8,1059.6) rotate(-90)"><text x="0" y="0" font-size="29.3" fill="#2a2222" textLength="234.8" lengthAdjust="spacing" font-family="'Liberation Serif','Noto Serif CJK SC',serif">蛋白相对表达水平</text></g>
<g filter="url(#b04)" opacity="1"><path d="M489.90,511.45 A28.00,28.00 0 0 1 537.50,511.45 A28.00,28.00 0 0 1 552.20,556.71 A28.00,28.00 0 0 1 513.70,584.69 A28.00,28.00 0 0 1 475.20,556.71 A28.00,28.00 0 0 1 489.90,511.45 Z" fill="#fff" fill-opacity="0.7" stroke="#7b8c94" stroke-width="1.7"/><circle cx="513.7" cy="545.2" r="25.2" fill="none" stroke="#7b8c94" stroke-width="1.3"/><path transform="translate(513.7,544.2)" d="M-26.5,-7 L-24,-10 L-20,-11.5 L-17,-14.5 L-13.5,-15 L-12,-18.5 L-9.5,-16.5 L-8.5,-12.5 L-5,-10.5 L-1,-9 L3,-8.5 L6.5,-10 L9,-13 L9.5,-17 L11.5,-20.5 L14.5,-23.5 L17.5,-21.5 L20,-19 L24.5,-18 L23.5,-14.5 L20,-13 L17.5,-10.5 L15.5,-7 L13,-5 L15.5,-3.5 L17,0 L19,3.5 L17.5,8 L14.5,11.5 L10.5,14.5 L6.5,16.5 L3.5,15.5 L1,13 L-1.5,14 L-3,17.5 L-5.5,17 L-6,13 L-8.5,11 L-12.5,10.5 L-16,8.5 L-20.5,8 L-23.5,5 L-24,0.5 L-26,-3 Z" fill="#d8803a" stroke="#d8803a" stroke-width="1" stroke-linejoin="round"/><path d="M531.2,557.7 l1.8,-1.2 l0.6,1.4 l-1.6,1.2 z M518.7,563.2 l1.5,0 l0,1.5 l-1.5,0z" fill="#d8803a"/><path d="M513.7,519.2 V565.2" stroke="#7b8c94" stroke-width="1.5"/><path d="M506.20000000000005,525.2 C511.70000000000005,521.2 522.7,527.2 516.2,535.2 C509.70000000000005,541.2 507.20000000000005,545.2 512.7,548.2 C518.7,551.2 516.7,556.2 512.2,559.2" stroke="#a9bcc6" stroke-width="1.7" fill="none"/><path d="M506.20000000000005,525.2 C511.70000000000005,521.2 522.7,527.2 516.2,535.2 C509.70000000000005,541.2 507.20000000000005,545.2 512.7,548.2 C518.7,551.2 516.7,556.2 512.2,559.2" stroke="#fff" stroke-width="0.5" fill="none" opacity="0.7"/><g font-family="Liberation Sans, sans-serif" font-size="6.8" font-weight="bold" font-style="italic" fill="#56686f" stroke="#56686f" stroke-width="0.25" text-anchor="middle"><text transform="translate(477.82,549.20) rotate(85.2)" textLength="4.90" lengthAdjust="spacingAndGlyphs">C</text><text transform="translate(478.56,554.04) rotate(77.4)" textLength="4.90" lengthAdjust="spacingAndGlyphs">H</text><text transform="translate(479.46,557.31) rotate(72.0)" textLength="1.89" lengthAdjust="spacingAndGlyphs">I</text><text transform="translate(480.66,560.48) rotate(66.6)" textLength="4.90" lengthAdjust="spacingAndGlyphs">N</text><text transform="translate(482.80,564.68) rotate(59.1)" textLength="4.53" lengthAdjust="spacingAndGlyphs">E</text><text transform="translate(485.37,568.41) rotate(51.9)" textLength="4.53" lengthAdjust="spacingAndGlyphs">S</text><text transform="translate(488.37,571.79) rotate(44.7)" textLength="4.53" lengthAdjust="spacingAndGlyphs">E</text><text transform="translate(493.78,576.18) rotate(33.6)" textLength="5.65" lengthAdjust="spacingAndGlyphs">M</text><text transform="translate(498.20,578.69) rotate(25.5)" textLength="4.53" lengthAdjust="spacingAndGlyphs">E</text><text transform="translate(502.58,580.44) rotate(18.0)" textLength="4.90" lengthAdjust="spacingAndGlyphs">D</text><text transform="translate(505.85,581.33) rotate(12.6)" textLength="1.89" lengthAdjust="spacingAndGlyphs">I</text><text transform="translate(509.19,581.92) rotate(7.2)" textLength="4.90" lengthAdjust="spacingAndGlyphs">C</text><text transform="translate(514.08,582.20) rotate(-0.6)" textLength="4.90" lengthAdjust="spacingAndGlyphs">A</text><text transform="translate(518.59,581.87) rotate(-7.8)" textLength="4.15" lengthAdjust="spacingAndGlyphs">L</text><text transform="translate(524.83,580.44) rotate(-18.0)" textLength="4.90" lengthAdjust="spacingAndGlyphs">A</text><text transform="translate(529.20,578.69) rotate(-25.5)" textLength="4.53" lengthAdjust="spacingAndGlyphs">S</text><text transform="translate(533.16,576.49) rotate(-32.7)" textLength="4.53" lengthAdjust="spacingAndGlyphs">S</text><text transform="translate(537.09,573.57) rotate(-40.5)" textLength="5.28" lengthAdjust="spacingAndGlyphs">O</text><text transform="translate(540.71,570.00) rotate(-48.6)" textLength="4.90" lengthAdjust="spacingAndGlyphs">C</text><text transform="translate(542.83,567.35) rotate(-54.0)" textLength="1.89" lengthAdjust="spacingAndGlyphs">I</text><text transform="translate(544.69,564.51) rotate(-59.4)" textLength="4.90" lengthAdjust="spacingAndGlyphs">A</text><text transform="translate(546.74,560.48) rotate(-66.6)" textLength="4.15" lengthAdjust="spacingAndGlyphs">T</text><text transform="translate(547.82,557.67) rotate(-71.4)" textLength="1.89" lengthAdjust="spacingAndGlyphs">I</text><text transform="translate(548.79,554.22) rotate(-77.1)" textLength="5.28" lengthAdjust="spacingAndGlyphs">O</text><text transform="translate(549.58,549.20) rotate(-85.2)" textLength="4.90" lengthAdjust="spacingAndGlyphs">N</text></g><text x="513.7" y="568.5" font-size="5.6" text-anchor="middle" fill="#56686f" font-weight="bold" letter-spacing="0.3">1915</text><g font-family="'Liberation Sans','Noto Sans CJK SC',sans-serif" font-size="8.6" font-weight="bold" fill="#56686f" text-anchor="middle"><text transform="translate(484.25,528.87) rotate(-62.5)" y="3.27">中</text><text transform="translate(495.38,516.51) rotate(-33.5)" y="3.27">华</text><text transform="translate(513.70,511.00) rotate(0.0)" y="3.27">医</text><text transform="translate(532.27,516.68) rotate(34.0)" y="3.27">学</text><text transform="translate(543.54,529.65) rotate(64.0)" y="3.27">会</text></g></g>
<path d="M534.00,1103.05 A28.00,28.00 0 0 1 581.60,1103.05 A28.00,28.00 0 0 1 596.30,1148.31 A28.00,28.00 0 0 1 557.80,1176.29 A28.00,28.00 0 0 1 519.30,1148.31 A28.00,28.00 0 0 1 534.00,1103.05 Z" fill="#454545" style="mix-blend-mode:color-dodge"/><g filter="url(#b04)" opacity="0.9"><path d="M534.00,1103.05 A28.00,28.00 0 0 1 581.60,1103.05 A28.00,28.00 0 0 1 596.30,1148.31 A28.00,28.00 0 0 1 557.80,1176.29 A28.00,28.00 0 0 1 519.30,1148.31 A28.00,28.00 0 0 1 534.00,1103.05 Z" fill="none" stroke="#7b8c94" stroke-width="1.7"/><circle cx="557.8" cy="1136.8" r="25.2" fill="none" stroke="#7b8c94" stroke-width="1.3"/><path transform="translate(557.8,1135.8)" d="M-26.5,-7 L-24,-10 L-20,-11.5 L-17,-14.5 L-13.5,-15 L-12,-18.5 L-9.5,-16.5 L-8.5,-12.5 L-5,-10.5 L-1,-9 L3,-8.5 L6.5,-10 L9,-13 L9.5,-17 L11.5,-20.5 L14.5,-23.5 L17.5,-21.5 L20,-19 L24.5,-18 L23.5,-14.5 L20,-13 L17.5,-10.5 L15.5,-7 L13,-5 L15.5,-3.5 L17,0 L19,3.5 L17.5,8 L14.5,11.5 L10.5,14.5 L6.5,16.5 L3.5,15.5 L1,13 L-1.5,14 L-3,17.5 L-5.5,17 L-6,13 L-8.5,11 L-12.5,10.5 L-16,8.5 L-20.5,8 L-23.5,5 L-24,0.5 L-26,-3 Z" fill="#d8803a" stroke="#d8803a" stroke-width="1" stroke-linejoin="round"/><path d="M575.3,1149.3 l1.8,-1.2 l0.6,1.4 l-1.6,1.2 z M562.8,1154.8 l1.5,0 l0,1.5 l-1.5,0z" fill="#d8803a"/><path d="M557.8,1110.8 V1156.8" stroke="#7b8c94" stroke-width="1.5"/><path d="M550.3,1116.8 C555.8,1112.8 566.8,1118.8 560.3,1126.8 C553.8,1132.8 551.3,1136.8 556.8,1139.8 C562.8,1142.8 560.8,1147.8 556.3,1150.8" stroke="#a9bcc6" stroke-width="1.7" fill="none"/><path d="M550.3,1116.8 C555.8,1112.8 566.8,1118.8 560.3,1126.8 C553.8,1132.8 551.3,1136.8 556.8,1139.8 C562.8,1142.8 560.8,1147.8 556.3,1150.8" stroke="#fff" stroke-width="0.5" fill="none" opacity="0.7"/><g font-family="Liberation Sans, sans-serif" font-size="6.8" font-weight="bold" font-style="italic" fill="#56686f" stroke="#56686f" stroke-width="0.25" text-anchor="middle"><text transform="translate(521.92,1140.80) rotate(85.2)" textLength="4.90" lengthAdjust="spacingAndGlyphs">C</text><text transform="translate(522.66,1145.64) rotate(77.4)" textLength="4.90" lengthAdjust="spacingAndGlyphs">H</text><text transform="translate(523.56,1148.91) rotate(72.0)" textLength="1.89" lengthAdjust="spacingAndGlyphs">I</text><text transform="translate(524.76,1152.08) rotate(66.6)" textLength="4.90" lengthAdjust="spacingAndGlyphs">N</text><text transform="translate(526.90,1156.28) rotate(59.1)" textLength="4.53" lengthAdjust="spacingAndGlyphs">E</text><text transform="translate(529.47,1160.01) rotate(51.9)" textLength="4.53" lengthAdjust="spacingAndGlyphs">S</text><text transform="translate(532.47,1163.39) rotate(44.7)" textLength="4.53" lengthAdjust="spacingAndGlyphs">E</text><text transform="translate(537.88,1167.78) rotate(33.6)" textLength="5.65" lengthAdjust="spacingAndGlyphs">M</text><text transform="translate(542.30,1170.29) rotate(25.5)" textLength="4.53" lengthAdjust="spacingAndGlyphs">E</text><text transform="translate(546.68,1172.04) rotate(18.0)" textLength="4.90" lengthAdjust="spacingAndGlyphs">D</text><text transform="translate(549.95,1172.93) rotate(12.6)" textLength="1.89" lengthAdjust="spacingAndGlyphs">I</text><text transform="translate(553.29,1173.52) rotate(7.2)" textLength="4.90" lengthAdjust="spacingAndGlyphs">C</text><text transform="translate(558.18,1173.80) rotate(-0.6)" textLength="4.90" lengthAdjust="spacingAndGlyphs">A</text><text transform="translate(562.69,1173.47) rotate(-7.8)" textLength="4.15" lengthAdjust="spacingAndGlyphs">L</text><text transform="translate(568.93,1172.04) rotate(-18.0)" textLength="4.90" lengthAdjust="spacingAndGlyphs">A</text><text transform="translate(573.30,1170.29) rotate(-25.5)" textLength="4.53" lengthAdjust="spacingAndGlyphs">S</text><text transform="translate(577.26,1168.09) rotate(-32.7)" textLength="4.53" lengthAdjust="spacingAndGlyphs">S</text><text transform="translate(581.19,1165.17) rotate(-40.5)" textLength="5.28" lengthAdjust="spacingAndGlyphs">O</text><text transform="translate(584.81,1161.60) rotate(-48.6)" textLength="4.90" lengthAdjust="spacingAndGlyphs">C</text><text transform="translate(586.93,1158.95) rotate(-54.0)" textLength="1.89" lengthAdjust="spacingAndGlyphs">I</text><text transform="translate(588.79,1156.11) rotate(-59.4)" textLength="4.90" lengthAdjust="spacingAndGlyphs">A</text><text transform="translate(590.84,1152.08) rotate(-66.6)" textLength="4.15" lengthAdjust="spacingAndGlyphs">T</text><text transform="translate(591.92,1149.27) rotate(-71.4)" textLength="1.89" lengthAdjust="spacingAndGlyphs">I</text><text transform="translate(592.89,1145.82) rotate(-77.1)" textLength="5.28" lengthAdjust="spacingAndGlyphs">O</text><text transform="translate(593.68,1140.80) rotate(-85.2)" textLength="4.90" lengthAdjust="spacingAndGlyphs">N</text></g><text x="557.8" y="1160.1" font-size="5.6" text-anchor="middle" fill="#56686f" font-weight="bold" letter-spacing="0.3">1915</text><g font-family="'Liberation Sans','Noto Sans CJK SC',sans-serif" font-size="8.6" font-weight="bold" fill="#56686f" text-anchor="middle"><text transform="translate(528.35,1120.47) rotate(-62.5)" y="3.27">中</text><text transform="translate(539.48,1108.11) rotate(-33.5)" y="3.27">华</text><text transform="translate(557.80,1102.60) rotate(0.0)" y="3.27">医</text><text transform="translate(576.37,1108.28) rotate(34.0)" y="3.27">学</text><text transform="translate(587.64,1121.25) rotate(64.0)" y="3.27">会</text></g></g>
<path d="M564.6,1162.6 V1179.2" stroke="#4a3d38" stroke-width="2.2" opacity="0.8"/>
</svg>
</body></html>
